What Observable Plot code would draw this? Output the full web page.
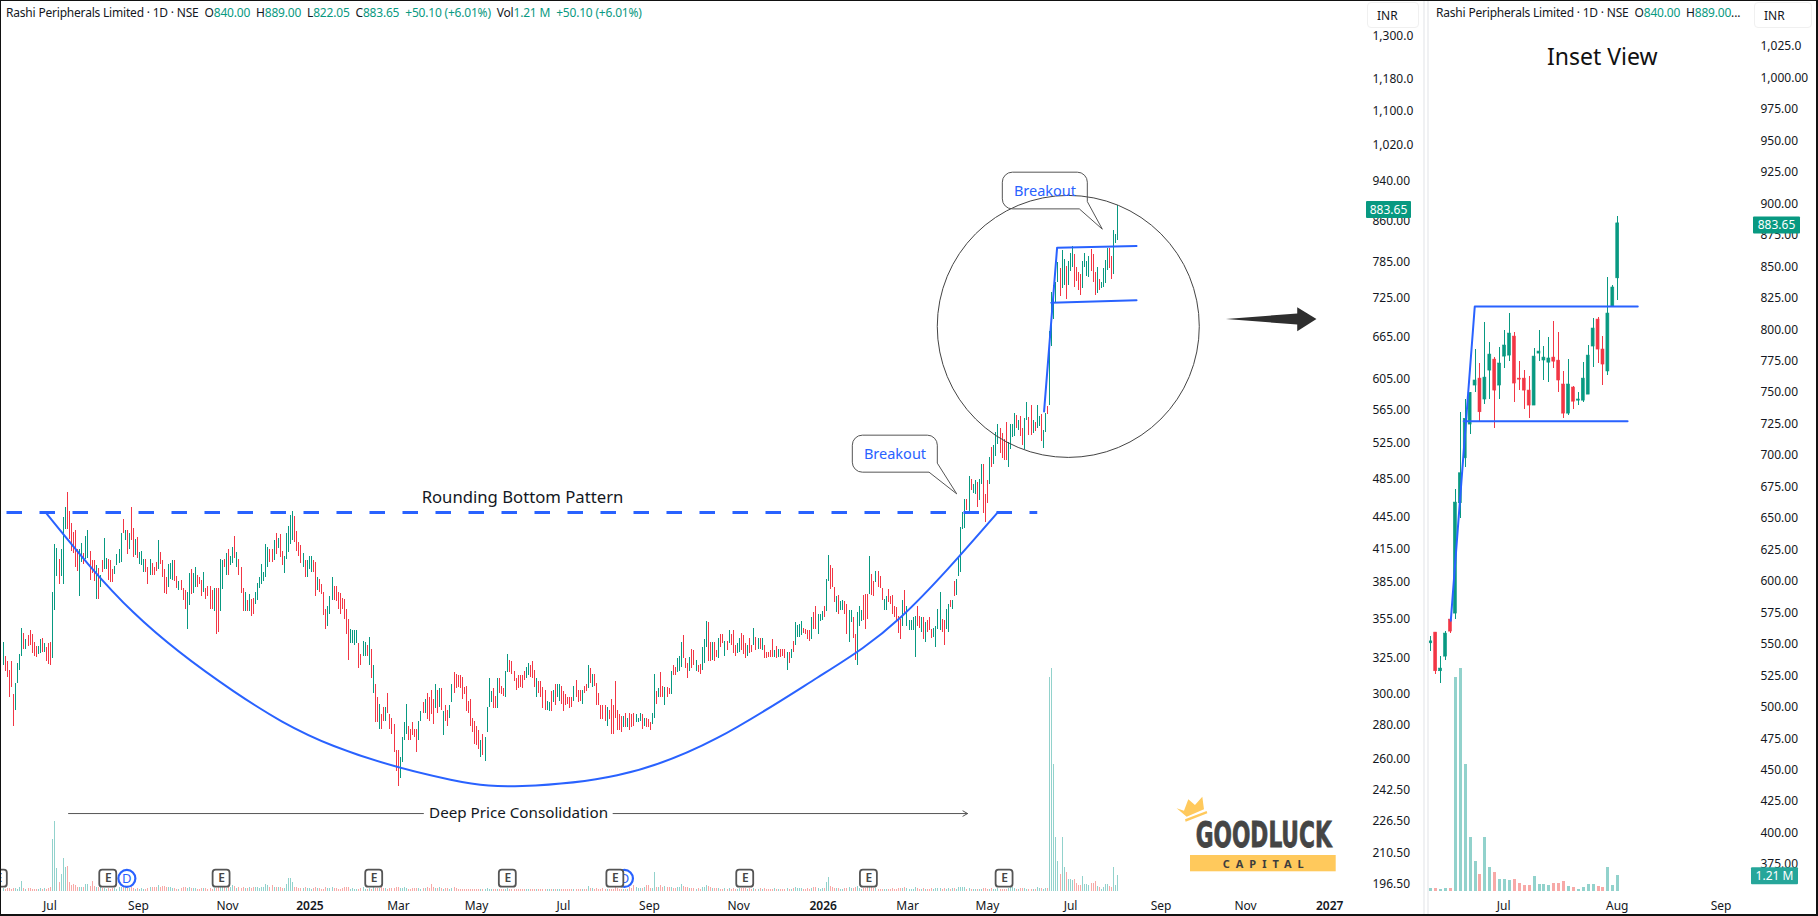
<!DOCTYPE html>
<html><head><meta charset="utf-8">
<script src="https://cdn.jsdelivr.net/npm/d3@7"></script>
<script src="https://cdn.jsdelivr.net/npm/@observablehq/plot@0.6"></script>
<style>
html,body{margin:0;padding:0;background:#fff;width:1818px;height:916px;overflow:hidden}
#page{position:relative;width:1818px;height:916px;overflow:hidden;font-family:"Noto Sans",sans-serif;color:#131722}
#page svg{position:absolute;left:0;top:0;max-width:none}
.t{position:absolute;white-space:nowrap;font-size:12px;line-height:16px;color:#131722;letter-spacing:-.2px}
.t b{font-weight:400;color:#089981}
.t span{margin-left:6px}
.inr{position:absolute;top:2px;height:26px;border:1px solid #f0f0f0;border-radius:4px;background:#fff;font-size:12px;line-height:26px;box-sizing:border-box;padding-left:9px}
.sep{position:absolute;top:0;height:916px;width:2px;background:#f0f1f3}
#frame{position:absolute;left:0;top:0;width:1818px;height:916px;box-sizing:border-box;border:1px solid #111;border-right-width:2px;border-bottom-width:2px;pointer-events:none}
</style></head><body><div id="page"></div>
<script>
// ---------- last 39 sessions ----------
const insetOpen =[550,558.5,527.8,539.4,568.8,573.6,661.3,697,723.8,754.8,760.3,743.7,766.7,775.4,754.8,777.8,778.6,793.7,760.3,760.3,750.8,738.9,780.2,774.7,773,777,774.6,755.6,732.5,753.2,742.8,742.8,747.6,785.8,807.2,783.4,766,817.6,840];
const insetHigh =[555.3,558.5,539.4,559.3,568.8,671.9,733.3,743.4,749,783.4,772.3,804.8,788.7,776.8,785,798.5,812,796.9,773.8,766.7,761.9,784.2,798.5,785.8,793,805.6,796.9,765.9,775.4,754,749.2,773,786.6,808,808.8,793.7,840.6,834.2,889];
const insetLow  =[543.4,525.4,518.2,536.3,558,569.1,649.1,690,715.8,749.2,726.2,739.7,743.7,720.9,743.7,768.3,773.8,741.3,750.8,735.7,728.6,738.9,773.8,758.8,757.2,768.3,749.2,728.6,731,735.7,738.9,741.3,747.6,769.1,772.3,754.8,762.7,817.6,822.05];
const insetClose=[551.5,527.8,529.9,557.7,559.3,661.8,685.1,728.3,749,758.8,733.6,761.1,779.4,750.8,772.3,786.6,796.1,756.4,759.5,750.8,738.9,777.8,781.8,777,776.3,773.8,758.8,732.5,755.6,742,743.7,760.3,778.6,800.1,783.4,771.5,812,832.7,883.65];
const insetVol  =[.23,.23,.15,.23,.23,16.2,16.85,9.6,4.08,2.27,1.28,4.08,1.81,1.44,.91,.91,.83,.91,.6,.45,.45,1.13,.53,.53,.45,.6,.6,.76,.38,.3,.15,.3,.53,.53,.38,.3,1.81,.45,1.21];

// ---------- earlier sessions ----------
const histHigh=[
336,326,322,316,322,299,307,321,327,347,
343,338,341,345,342,336,333,333,338,339,
335,332,335,336,376,418,414,404,413,444,
454,469,450,438,429,431,413,413,419,410,
426,431,412,403,403,399,396,390,403,424,
405,404,403,395,398,409,413,428,442,431,
431,428,454,433,423,425,411,412,404,404,
397,404,401,397,402,422,411,403,395,388,
400,401,403,403,389,385,386,379,377,376,
392,395,392,397,390,388,386,393,379,381,
381,377,379,379,379,404,403,404,410,413,
407,415,426,411,404,397,379,376,369,374,
370,371,376,383,388,400,393,418,415,413,
413,422,428,424,427,412,407,428,435,446,
450,445,430,420,417,410,403,403,407,407,
403,402,388,387,382,376,362,364,372,388,
381,381,376,375,371,370,362,354,346,345,
345,345,335,327,337,336,334,340,331,319,
306,297,293,286,291,291,300,286,284,280,
264,264,260,272,281,293,279,277,281,277,
277,282,288,294,296,300,297,302,296,306,
302,303,303,288,292,289,292,306,314,313,
312,312,311,304,305,295,296,284,282,279,
276,270,274,272,291,310,301,303,298,310,
310,305,303,315,327,323,322,315,310,312,
312,312,315,318,321,319,322,316,310,308,
308,304,302,295,294,301,302,306,306,306,
305,301,299,297,297,297,305,309,302,302,
302,305,306,319,317,313,313,307,300,292,
292,292,291,289,296,292,308,289,286,285,
285,287,284,287,286,287,286,284,287,286,
284,284,283,281,287,313,301,303,314,305,
304,304,303,315,319,318,324,326,336,341,
324,321,325,331,330,323,319,320,332,338,
352,351,336,336,336,330,339,342,342,337,
337,345,342,345,334,335,339,343,341,335,
334,339,334,347,340,339,339,339,334,329,
329,330,338,330,333,331,331,331,331,329,
329,331,337,351,349,350,352,347,346,345,
345,355,359,364,358,358,360,364,387,408,
399,396,380,372,373,368,369,368,366,361,
361,355,342,359,364,361,373,374,374,407,
391,385,394,394,389,379,370,372,378,372,
373,364,363,356,354,369,377,364,353,353,
355,356,364,356,355,355,351,353,355,346,
347,348,362,376,354,353,362,366,369,369,
385,387,407,434,449,462,462,486,483,478,
482,480,483,499,499,467,482,507,519,521,
537,546,541,535,528,548,525,546,546,559,
557,551,556,541,553,573,555,570,551,548,
570];
const histLow=[
319,315,311,297,304,279,289,307,316,326,
331,331,333,334,328,326,325,327,328,329,
329,322,320,319,324,361,389,382,389,382,
432,432,423,412,410,397,394,372,402,400,
404,405,386,392,385,370,370,380,393,395,
395,386,384,384,391,399,401,402,428,422,
409,413,422,406,408,405,400,399,393,393,
382,390,390,390,394,395,400,388,375,374,
380,387,386,385,379,377,377,369,362,346,
365,374,375,380,380,382,372,376,370,372,
362,362,360,342,344,360,378,397,390,390,
399,401,405,397,390,375,360,360,360,360,
356,358,366,369,379,382,385,388,397,402,
402,403,409,414,406,399,392,404,411,418,
422,420,412,407,401,397,388,388,395,393,
393,372,377,376,374,357,346,348,358,369,
369,368,362,358,362,354,342,323,335,335,
334,335,317,319,326,326,326,319,310,300,
281,281,277,277,282,282,287,277,274,263,
252,244,248,257,270,274,270,270,273,272,
263,270,282,287,287,283,282,286,280,290,
287,291,289,273,282,279,284,294,300,303,
304,303,296,299,288,287,279,275,268,267,
265,260,261,258,275,291,294,290,290,290,
300,299,298,297,314,314,313,308,302,303,
304,303,309,310,312,311,310,304,297,300,
297,290,289,289,288,288,294,292,297,295,
293,288,292,293,290,291,295,297,294,295,
293,300,301,303,307,304,305,292,292,283,
283,282,279,283,274,274,284,276,276,275,
278,278,278,276,278,279,281,281,282,277,
279,278,278,276,280,284,293,297,297,297,
292,297,299,299,312,312,314,315,318,324,
317,310,315,317,319,315,314,313,316,321,
332,322,322,323,322,325,324,332,335,326,
330,335,334,328,326,328,329,330,327,324,
326,328,329,334,330,331,331,330,324,324,
325,325,325,325,324,325,325,326,324,316,
321,324,329,334,340,340,341,343,342,338,
337,338,346,346,342,352,353,355,360,385,
378,380,367,359,358,361,361,358,342,336,
351,339,323,319,348,352,353,346,354,374,
373,372,384,380,379,369,361,361,367,366,
358,355,352,343,338,348,358,348,345,345,
345,325,348,347,344,338,336,344,345,339,
340,332,346,345,344,334,346,344,363,362,
372,373,389,393,432,433,451,447,471,468,
467,454,461,478,448,439,458,478,496,500,
508,522,512,506,504,504,496,517,531,532,
541,539,532,521,517,551,533,533,535,538,
541];
const histUp=[
1,0,0,0,0,0,1,1,1,1,
0,1,0,0,0,0,0,1,1,0,
1,0,0,0,1,1,1,0,1,1,
1,0,0,0,0,0,0,1,1,0,
1,1,0,0,0,1,0,1,0,1,
1,0,0,0,1,1,1,1,0,1,
0,1,0,0,1,0,1,1,1,0,
0,1,0,0,0,1,0,0,0,0,
1,1,1,0,0,1,0,0,0,1,
1,0,1,1,0,0,0,1,0,0,
0,0,1,0,0,1,1,0,1,0,
1,1,0,1,0,0,0,1,0,1,
0,0,1,1,1,1,1,1,1,0,
0,1,0,1,0,0,1,1,1,1,
1,0,0,0,0,1,0,1,1,1,
0,0,1,0,0,0,0,1,1,1,
0,0,0,0,0,0,0,0,1,1,
1,1,0,0,1,1,0,1,0,1,
0,0,1,0,0,1,0,0,0,0,
0,0,1,1,1,1,0,0,0,0,
0,1,1,0,1,0,0,0,0,1,
0,1,0,1,0,0,1,1,0,0,
0,0,0,0,0,0,0,0,0,0,
0,1,0,1,1,1,1,0,0,1,
0,0,0,1,1,0,0,0,0,0,
0,0,0,1,1,0,0,0,1,0,
0,0,0,1,1,0,1,0,1,1,
0,0,0,0,0,0,1,0,0,0,
1,0,0,1,0,1,0,0,0,0,
0,0,1,0,0,0,0,0,0,0,
1,0,1,0,0,0,1,1,1,0,
1,0,0,0,1,1,0,1,0,0,
1,0,0,1,0,0,1,1,1,0,
0,0,1,0,0,1,0,0,1,1,
1,0,0,1,0,0,1,0,0,1,
0,1,0,0,0,1,1,0,0,0,
1,0,0,1,0,1,0,1,0,0,
0,0,0,1,0,1,0,0,0,1,
0,1,0,1,1,1,1,0,0,0,
0,1,0,0,1,1,1,0,1,1,
0,0,0,1,0,1,1,0,0,1,
1,0,0,1,1,1,0,0,0,1,
0,0,1,0,0,0,1,1,0,0,
0,0,0,0,0,1,0,1,1,1,
1,1,0,0,1,0,1,0,0,0,
1,1,1,1,0,0,1,1,0,1,
0,1,1,1,1,1,0,1,0,1,
1,0,1,1,0,0,0,1,0,1,
1,1,0,0,0,0,1,1,1,1,
0,1,0,0,1,1,0,0,1,0,
1];
const histVol=[
.2,.15,.2,.2,.15,.2,.2,.15,.25,.73,
.2,.15,.2,.2,.15,.15,.15,.15,.2,.15,
.2,.15,.2,.25,3.95,5.3,1.74,.68,1.26,2.5,
1.76,1.86,.68,.4,.5,.4,.3,.3,.25,.3,
.5,.5,.35,.73,.35,.3,.3,.25,.2,.2,
.15,.2,.15,.2,.2,.15,.3,.25,.3,.25,
.2,.2,.25,.2,.15,.2,.15,.2,.15,.15,
.2,.3,.25,.3,.25,.4,.3,.35,.35,.3,
.3,.25,.2,.2,.15,.15,.2,.25,.25,.2,
.25,.2,.2,.2,.15,.15,.2,.2,.2,.15,
.2,.15,.2,.2,.3,.3,.25,.25,.2,.3,
.3,.4,.35,.2,.3,.2,.25,.2,.2,.25,
.2,.25,.3,.25,.2,.3,.3,.5,.4,.25,
.43,.3,.25,.25,.25,.2,.2,.5,.93,.96,
.68,.3,.25,.2,.2,.2,.25,.2,.2,.15,
.2,.25,.2,.2,.15,.15,.25,.2,.2,.25,
.2,.2,.15,.15,.2,.25,.3,.25,.15,.2,
.15,.15,.15,.2,.25,.15,.15,.2,.15,.25,
.2,.2,.2,.25,.2,.2,.15,.2,.2,.2,
.25,.25,.2,.2,.25,.2,.15,.15,.2,.2,
.2,.2,.15,.2,.2,.25,.2,.5,.25,.2,
.2,.25,.2,.15,.2,.2,.15,.2,.25,.2,
.15,.12,.15,.12,.15,.12,.15,.12,.15,.15,
.12,.15,.12,.15,.2,.15,.15,.12,.12,.15,
.12,.12,.15,.15,.2,.12,.12,.12,.12,.12,
.12,.12,.12,.12,.12,.12,.15,.12,.15,.12,
.12,.12,.12,.1,.12,.12,.15,.12,.12,.12,
.12,.12,.1,.1,.1,.12,.12,.15,.12,.12,
.15,.12,.15,.35,.2,.2,.15,.2,.15,.15,
.2,.15,.15,.15,.15,.15,.25,.2,.15,.15,
.15,.15,.15,.3,.2,.4,.25,.2,.2,.2,
.25,.4,.45,.2,.2,1.44,.3,.25,.43,.25,
.35,.25,.25,.3,.2,.2,.25,.3,.5,.35,
.25,.25,.2,.2,.2,.15,.2,.15,.25,.3,
.4,.35,.3,.2,.2,.2,.2,.15,.15,.2,
.15,.2,.15,.2,.15,.15,.2,.2,.2,.2,
.15,.2,.15,.2,.15,.15,.2,.15,.2,.15,
.15,.15,.15,.2,.15,.15,.15,.15,.15,.2,
.15,.15,.2,.3,.2,.2,.2,.15,.15,.2,
.15,.2,.25,.25,.2,.15,.2,.2,.68,1.06,
.35,.25,.2,.2,.2,.15,.15,.2,.2,.25,
.2,.2,.3,.35,.2,.15,.2,.2,.25,.35,
.25,.2,.2,.15,.15,.15,.15,.15,.15,.15,
.2,.15,.15,.2,.2,.2,.25,.2,.15,.15,
.15,.25,.2,.15,.15,.2,.15,.15,.15,.2,
.15,.2,.2,.2,.15,.2,.15,.2,.15,.2,
.2,.15,.25,.3,.25,.25,.15,.2,.15,.15,
.15,.15,.15,.15,.2,.2,.15,.15,.2,.15,
.15,.2,.15,.15,.15,.15,.2,.5,.25,.2,
.15,.15,.2,.2,.2,.15,.15,.15,.15,.15,
.25];

// ---------- axes ----------
const mainPriceLabels=["1,300.0","1,180.0","1,100.0","1,020.0","940.00","860.00","785.00","725.00","665.00","605.00","565.00","525.00","485.00","445.00","415.00","385.00","355.00","325.00","300.00","280.00","260.00","242.50","226.50","210.50","196.50"];
const insetPriceLabels=["1,025.0","1,000.00","975.00","950.00","925.00","900.00","875.00","850.00","825.00","800.00","775.00","750.00","725.00","700.00","675.00","650.00","625.00","600.00","575.00","550.00","525.00","500.00","475.00","450.00","425.00","400.00","375.00"];
const mainMonthBars=[22.6,65.4,108.5,191.1,228.9,270.9,312.5,355.6,437.3,475.9,516.1,559.9,600.7];
const mainMonthLabels=["Jul","Sep","Nov","Mar","May","Jul","Sep","Nov","Mar","May","Jul","Sep","Nov"];
const mainYearBars=[148.3,396.5,641.4];
const mainYearLabels=["2025","2026","2027"];
const insetMonthBars=[14.8,37.9,59];
const insetMonthLabels=["Jul","Aug","Sep"];

// ---------- annotations, in bar index and price ----------
const necklineBar=[1.6,500], necklinePrice=[449,449];
const bowlBar=[20.5,63.2,111.5,159.9,216.3,251,296.9,345.3,393.6,434,480.9];
const bowlPrice=[449,359,301.4,266.9,247.6,244.1,250,271.7,310.7,355.5,449];
const flagMainBar=[503.3,509.6,548], flagMainPrice=[562.2,809.6,812.5];
const flagMainLowBar=[506.8,548], flagMainLowPrice=[716.3,720];
const flagInsetBar=[4.07,8.94,42.07], flagInsetPrice=[568,817.6,817.6];
const flagInsetLowBar=[6.7,40], flagInsetLowPrice=[726.4,726.4];
const arrowBar=[591.2,625.7,625.7,635,625.7,625.7,591.2], arrowPrice=[690.6,699.4,708.9,690.6,672.3,682.4,690.6];
const earningsBars=[-2.1,50.8,105.6,179.4,244,296,358.8,418.6,484.2];
const dividendBars=[59.8,300.4];

const GREEN="#089981",RED="#f23645",TEAL="#92d2cc",PINK="#f7a9a7",BLUE="#2962ff",INK="#131722",FONT='"Noto Sans",sans-serif';

const insetBars=insetOpen.map((o,k)=>({i:k,open:o,high:insetHigh[k],low:insetLow[k],close:insetClose[k],vol:insetVol[k],up:insetClose[k]>=o}));
const hist=histHigh.map((h,k)=>({i:k,high:h,low:histLow[k],up:!!histUp[k],vol:histVol[k]}));
const mainBars=hist.concat(insetBars.map((d,k)=>({i:hist.length+k,high:d.high,low:d.low,up:d.up,vol:d.vol})));
const zip=(xs,ys)=>xs.map((x,k)=>({x,y:ys[k]}));
const num=s=>+s.replace(/,/g,"");

const common={width:1818,height:916,marginTop:0,marginRight:452,marginBottom:21,marginLeft:0,color:{type:"identity"},
  style:{background:"transparent",fontFamily:FONT,fontSize:"12px",color:INK}};
const mainX={domain:[-1.3,659.2]};
const mainY={type:"log",domain:[191.3,1403.9]};

function badge(value,text,left,w,fill,nudge){
  return (index,{y})=>{
    const g=document.createElementNS("http://www.w3.org/2000/svg","g");
    const r=document.createElementNS("http://www.w3.org/2000/svg","rect");
    const c=y(value)+nudge;
    r.setAttribute("x",left);r.setAttribute("y",c-8.5);r.setAttribute("width",w);r.setAttribute("height",17);r.setAttribute("rx",1);r.setAttribute("fill",fill);
    const t=document.createElementNS("http://www.w3.org/2000/svg","text");
    t.setAttribute("x",left+w/2);t.setAttribute("y",c+4.2);t.setAttribute("text-anchor","middle");t.setAttribute("fill","#fff");t.setAttribute("font-size","12");t.textContent=text;
    g.append(r,t);return g;
  };
}
function callout(bar,price,b){
  return (index,{x,y})=>{
    const tx=x(bar),ty=y(price),L=tx+b.left,R=tx+b.right,T=ty+b.top,B=ty+b.bottom,c=10;
    const p=d3.path();
    p.moveTo(L+c,T);p.lineTo(R-c,T);p.arcTo(R,T,R,T+c,c);p.lineTo(R,ty+b.tailA);p.lineTo(tx,ty);p.lineTo(tx+b.tailB,B);p.lineTo(L+c,B);p.arcTo(L,B,L,B-c,c);p.lineTo(L,T+c);p.arcTo(L,T,L+c,T,c);p.closePath();
    const g=document.createElementNS("http://www.w3.org/2000/svg","g");
    const e=document.createElementNS("http://www.w3.org/2000/svg","path");
    e.setAttribute("d",p.toString());e.setAttribute("fill","none");e.setAttribute("stroke","#555");e.setAttribute("stroke-width","1");
    const t=document.createElementNS("http://www.w3.org/2000/svg","text");
    t.setAttribute("x",tx+b.textX);t.setAttribute("y",ty+b.textY+5);t.setAttribute("text-anchor","middle");t.setAttribute("fill",BLUE);t.setAttribute("font-size","14.5");t.textContent="Breakout";
    g.append(e,t);return g;
  };
}

// ---------- main price pane ----------
const mainPlot=Plot.plot({...common,x:mainX,y:mainY,marks:[
  Plot.ruleX(mainBars,{x:"i",y1:"low",y2:"high",stroke:d=>d.up?GREEN:RED,strokeWidth:1,shapeRendering:"crispEdges"}),
  Plot.line(zip(necklineBar,necklinePrice),{x:"x",y:"y",stroke:BLUE,strokeWidth:3,strokeDasharray:"15.5,17.5",strokeLinecap:"butt"}),
  Plot.line(zip(bowlBar,bowlPrice),{x:"x",y:"y",stroke:BLUE,strokeWidth:2,curve:"natural"}),
  Plot.line(zip(flagMainBar,flagMainPrice),{x:"x",y:"y",stroke:BLUE,strokeWidth:2}),
  Plot.line(zip(flagMainLowBar,flagMainLowPrice),{x:"x",y:"y",stroke:BLUE,strokeWidth:2}),
  Plot.dot([{x:515,y:679.4}],{x:"x",y:"y",r:131,stroke:"#444",fill:"none",strokeWidth:1}),
  callout(461.3,467.4,{left:-104.4,right:-19.4,top:-58.7,bottom:-21.7,tailA:-30.7,tailB:-27.7,textX:-61.7,textY:-40}),
  callout(531.7,842.7,{left:-100,right:-15,top:-57,bottom:-20.3,tailA:-27.6,tailB:-23,textX:-57.3,textY:-38.6}),
  Plot.text(["Rounding Bottom Pattern"],{x:251.1,y:464.2,text:d=>d,fontSize:16.7,fill:INK}),
  Plot.text(["Deep Price Consolidation"],{x:249.2,y:229.6,text:d=>d,fontSize:15.2,fill:INK}),
  Plot.line(zip([31.6,203.2],[229.6,229.6]),{x:"x",y:"y",stroke:"#555",strokeWidth:1}),
  Plot.arrow([{a:294.9,b:466.3,p:229.6}],{x1:"a",x2:"b",y1:"p",y2:"p",bend:0,stroke:"#555",strokeWidth:1,headLength:8}),
  Plot.line(zip(arrowBar,arrowPrice),{x:"x",y:"y",fill:"#2e2e2e",stroke:"none"}),
  Plot.dot(dividendBars,{x:d=>d,y:198.7,r:8.5,fill:"#fff",stroke:BLUE,strokeWidth:2.2}),
  Plot.text(dividendBars,{x:d=>d,y:198.7,text:()=>"D",fill:BLUE,fontSize:13}),
  Plot.rect(earningsBars,{x1:d=>d-4.1,x2:d=>d+4.1,y1:194.9,y2:202.4,rx:3,fill:"#fff",stroke:"#555",strokeWidth:1.8}),
  Plot.text(earningsBars,{x:d=>d,y:198.7,text:()=>"E",fill:"#444",fontSize:12,fontWeight:600}),
  Plot.axisY({anchor:"right",ticks:mainPriceLabels.map(num),tickFormat:v=>mainPriceLabels.find(s=>num(s)===v),tickSize:0,tickPadding:6,label:null,textAnchor:"start",dy:1}),
  Plot.axisX({ticks:mainMonthBars,tickFormat:v=>mainMonthLabels[mainMonthBars.indexOf(v)],tickSize:0,tickPadding:5.5,label:null}),
  Plot.axisX({ticks:mainYearBars,tickFormat:v=>mainYearLabels[mainYearBars.indexOf(v)],tickSize:0,tickPadding:5.5,label:null,fontWeight:600}),
  badge(883.65,"883.65",1366,45,GREEN,1.5)
]});

// ---------- main volume pane ----------
const volCommon={...common,marginBottom:25.3};
const mainVolPlot=Plot.plot({...volCommon,x:{...mainX,axis:null},y:{domain:[0,67.48],axis:null},marks:[
  Plot.ruleX(mainBars,{x:"i",y1:0,y2:"vol",stroke:d=>d.up?TEAL:PINK,strokeWidth:1,shapeRendering:"crispEdges"})
]});

// ---------- inset panes ----------
const insetCommon={marginLeft:1429,marginRight:64};
const insetX={domain:[-0.26,65.8]};
const insetPlot=Plot.plot({...common,...insetCommon,x:insetX,y:{domain:[349.6,1060.76]},marks:[
  Plot.ruleX(insetBars,{x:"i",y1:"low",y2:"high",stroke:d=>d.up?GREEN:RED,strokeWidth:1,shapeRendering:"crispEdges"}),
  Plot.rect(insetBars,{x1:d=>d.i-.3,x2:d=>d.i+.3,y1:"open",y2:"close",fill:d=>d.up?GREEN:RED,stroke:d=>d.up?GREEN:RED,strokeWidth:.6}),
  Plot.line(zip(flagInsetBar,flagInsetPrice),{x:"x",y:"y",stroke:BLUE,strokeWidth:2}),
  Plot.line(zip(flagInsetLowBar,flagInsetLowPrice),{x:"x",y:"y",stroke:BLUE,strokeWidth:2}),
  Plot.axisY({anchor:"right",ticks:insetPriceLabels.map(num),tickFormat:v=>insetPriceLabels.find(s=>num(s)===v),tickSize:0,tickPadding:6,label:null,textAnchor:"start",dy:1}),
  Plot.axisX({ticks:insetMonthBars,tickFormat:v=>insetMonthLabels[insetMonthBars.indexOf(v)],tickSize:0,tickPadding:5.5,label:null}),
  badge(883.65,"883.65",1753,47,GREEN,2)
]});
const insetVolPlot=Plot.plot({...volCommon,...insetCommon,x:{...insetX,axis:null},y:{domain:[0,67.48],axis:null},marks:[
  Plot.ruleX(insetBars,{x:"i",y1:0,y2:"vol",stroke:d=>d.up?TEAL:PINK,strokeWidth:3,shapeRendering:"crispEdges"}),
  badge(1.21,"1.21 M",1751,47,"#26a69a",1)
]});

// ---------- page ----------
const page=document.getElementById("page");
page.append(mainVolPlot,mainPlot,insetPlot,insetVolPlot);
page.insertAdjacentHTML("beforeend",`
<div class="sep" style="left:1423px"></div><div class="sep" style="left:1427px"></div>
<div class="inr" style="left:1367px;width:52px">INR</div>
<div class="inr" style="left:1754px;width:58px">INR</div>
<div class="t" style="left:6px;top:5px">Rashi Peripherals Limited · 1D · NSE<span>O<b>840.00</b></span><span>H<b>889.00</b></span><span>L<b>822.05</b></span><span>C<b>883.65</b></span><span><b>+50.10 (+6.01%)</b></span><span>Vol<b>1.21 M</b></span><span><b>+50.10 (+6.01%)</b></span></div>
<div class="t" style="left:1436px;top:5px">Rashi Peripherals Limited · 1D · NSE<span>O<b>840.00</b></span><span>H<b>889.00</b>...</span></div>
<div class="t" style="left:1547px;top:40px;font-size:23px;line-height:32px;color:#111;letter-spacing:0">Inset View</div>
<svg width="1818" height="916" style="pointer-events:none">
  <g transform="translate(1000,640) scale(.3333)" fill="#ffc95c">
    <polygon points="530,505 552,512 565,478 585,495 607,470 612,508 560,530"/>
    <polygon points="555,538 620,513 622,520 557,545"/>
  </g>
  <text x="1195.7" y="847.3" font-family="'Liberation Sans Narrow','DejaVu Sans Condensed',sans-serif" font-weight="700" font-size="35" fill="#454545" stroke="#454545" stroke-width=".8" textLength="136" lengthAdjust="spacingAndGlyphs">GOODLUCK</text>
  <rect x="1190" y="855" width="145.7" height="16.3" fill="#ffc95c"/>
  <text x="1222.7" y="868" font-family='"Noto Sans",sans-serif' font-weight="700" font-size="11" fill="#3d3d3d" textLength="81">CAPITAL</text>
</svg>
<div id="frame"></div>`);
</script></body></html>
